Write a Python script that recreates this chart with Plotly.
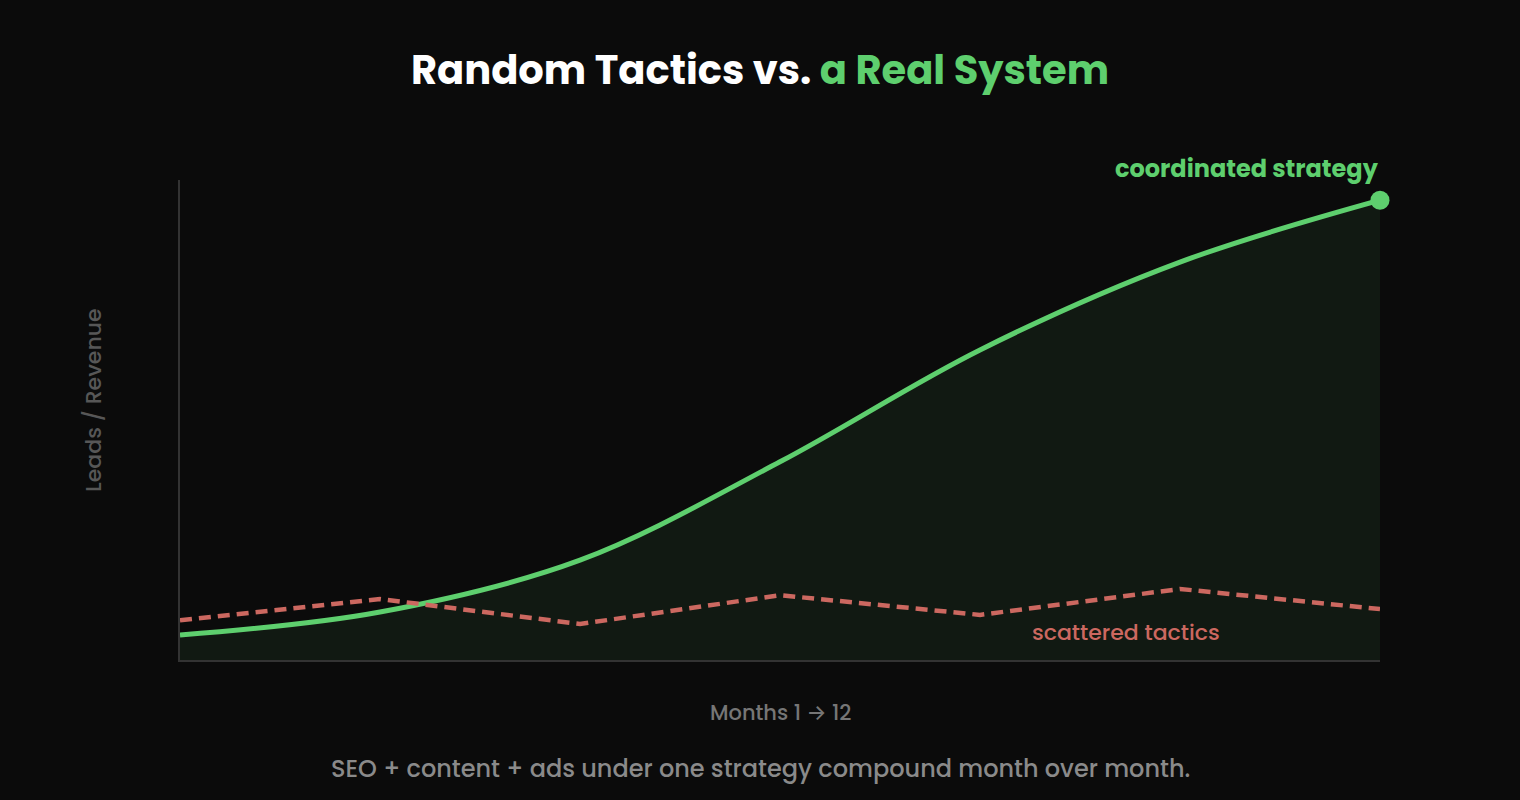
import plotly.graph_objects as go

months = [0, 1, 2, 3, 4, 5, 6]
coordinated = [5.2, 10.0, 20.8, 41.3, 64.6, 82.9, 95.8]
scattered = [8.3, 12.7, 7.5, 13.5, 9.4, 14.8, 10.6]

title_white = "Random Tactics vs. "
title_green = "a Real System"
label_coord = "coordinated strategy"
label_scatter = "scattered tactics"
x_title = "Months 1 → 12"
y_title = "Leads / Revenue"
caption = "SEO + content + ads under one strategy compound month over month."

GREEN = "#5ecf6e"
RED = "#cc6860"
BG = "#0b0b0b"
FONT = "Poppins, Inter, 'Open Sans', sans-serif"

# plot area in pixels: x 180..1380, y 180..660
def py(p):
    return (660 - p) / 480

def px(p):
    return (p - 180) / 1200

fig = go.Figure()
fig.add_trace(go.Scatter(
    x=months, y=coordinated, mode="lines",
    line=dict(color=GREEN, width=5, shape="spline", smoothing=1.0),
    fill="tozeroy", fillcolor="rgba(94,207,110,0.075)",
    cliponaxis=False, hoverinfo="skip", showlegend=False,
))
fig.add_trace(go.Scatter(
    x=months, y=scattered, mode="lines",
    line=dict(color=RED, width=4.5, dash="12px,7px"),
    cliponaxis=False, hoverinfo="skip", showlegend=False,
))
fig.add_trace(go.Scatter(
    x=[months[-1]], y=[coordinated[-1]], mode="markers",
    marker=dict(color=GREEN, size=19),
    cliponaxis=False, hoverinfo="skip", showlegend=False,
))

fig.update_layout(
    width=1520, height=800,
    paper_bgcolor=BG, plot_bgcolor=BG,
    margin=dict(l=180, r=140, t=180, b=140),
    font=dict(family=FONT),
    xaxis=dict(range=[0, 6], showgrid=False, zeroline=False, showticklabels=False,
               ticks="", showline=True, linecolor="#333333", linewidth=2),
    yaxis=dict(range=[0, 100], showgrid=False, zeroline=False, showticklabels=False,
               ticks="", showline=True, linecolor="#333333", linewidth=2),
    annotations=[
        dict(xref="paper", yref="paper", x=px(760), y=py(70),
             text=f"{title_white}<span style='color:{GREEN}'>{title_green}</span>",
             showarrow=False, font=dict(size=40, color="#ffffff", family=FONT, weight=700),
             xanchor="center", yanchor="middle"),
        dict(xref="paper", yref="paper", x=px(1381), y=py(168), text=label_coord,
             showarrow=False, font=dict(size=24, color=GREEN, family=FONT, weight=700),
             xanchor="right", yanchor="middle"),
        dict(xref="paper", yref="paper", x=px(1126), y=py(632), text=label_scatter,
             showarrow=False, font=dict(size=22, color=RED, family=FONT, weight=500),
             xanchor="center", yanchor="middle"),
        dict(xref="paper", yref="paper", x=px(780), y=py(712),
             text=x_title, showarrow=False,
             font=dict(size=21, color="#767676", family=FONT, weight=500),
             xanchor="center", yanchor="middle"),
        dict(xref="paper", yref="paper", x=px(93), y=py(400),
             text=y_title, showarrow=False, textangle=-90,
             font=dict(size=22, color="#575757", family=FONT, weight=500),
             xanchor="center", yanchor="middle"),
        dict(xref="paper", yref="paper", x=px(760), y=py(768),
             text=caption, showarrow=False,
             font=dict(size=24, color="#8a8a8a", family=FONT, weight=500),
             xanchor="center", yanchor="middle"),
    ],
)

fig.write_html("out.html")
